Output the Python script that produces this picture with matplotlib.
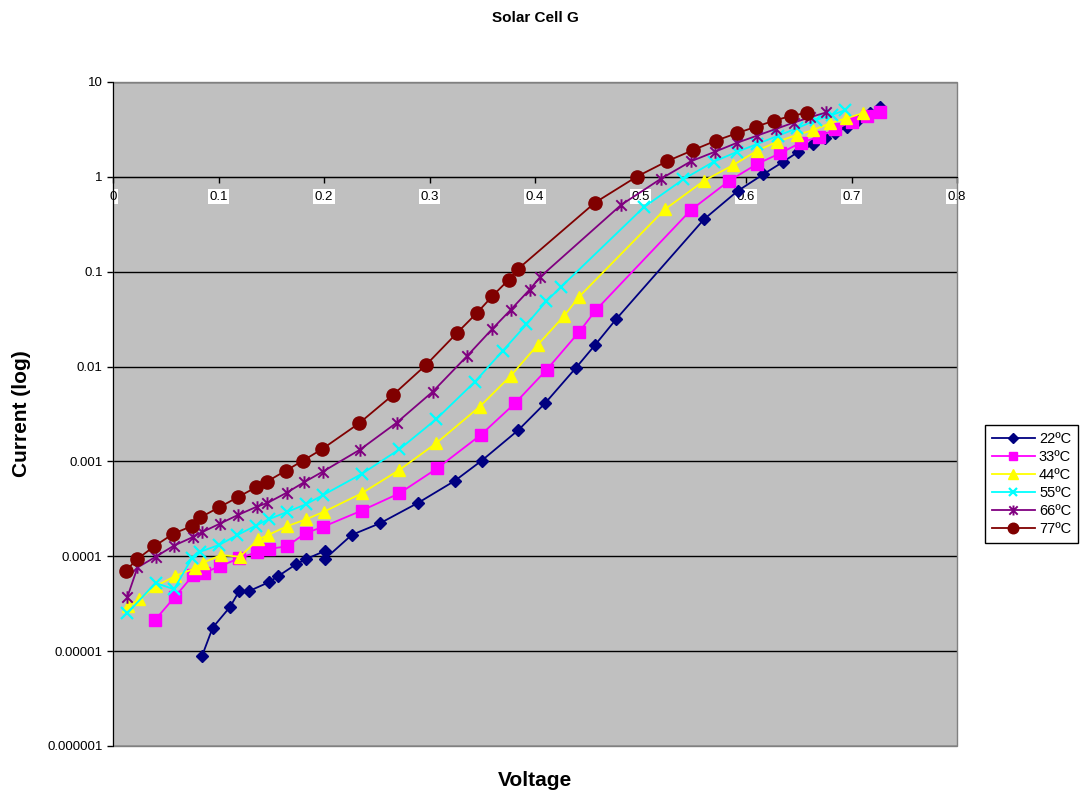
import matplotlib
matplotlib.use('Agg')
import matplotlib.pyplot as plt
from matplotlib.path import Path
from matplotlib.patches import Rectangle
from matplotlib.ticker import NullLocator

plt.rcParams['font.family'] = ['Liberation Sans', 'DejaVu Sans']

# ---------------- data ----------------
v22 = [0.0844, 0.0945, 0.1109, 0.1197, 0.1292, 0.1476, 0.1567, 0.1735, 0.1825, 0.2009, 0.2012,
       0.2263, 0.2531, 0.2894, 0.3242, 0.3495, 0.3842, 0.4095, 0.4389, 0.4569, 0.4768,
       0.5602, 0.5921, 0.6164, 0.6354, 0.6496, 0.6638, 0.6749, 0.6844, 0.6955, 0.7065, 0.7176, 0.7270]
i22 = [8.9e-6, 1.77e-5, 2.92e-5, 4.31e-5, 4.31e-5, 5.32e-5, 6.19e-5, 8.24e-5, 9.29e-5, 1.14e-4, 9.44e-5,
       1.68e-4, 2.23e-4, 3.67e-4, 6.27e-4, 1.02e-3, 2.14e-3, 4.1e-3, 9.73e-3, 0.01687, 0.0315,
       0.357, 0.71, 1.064, 1.445, 1.84, 2.20, 2.55, 2.88, 3.38, 3.97, 4.67, 5.41]

v33 = [0.0398, 0.0588, 0.0761, 0.0858, 0.1014, 0.1197, 0.1365, 0.1482, 0.1646, 0.1825, 0.1993,
       0.2357, 0.2714, 0.3074, 0.3488, 0.3810, 0.4111, 0.4420, 0.4578,
       0.5479, 0.5842, 0.6107, 0.6322, 0.6518, 0.6695, 0.6844, 0.7002, 0.7144, 0.7270]
i33 = [2.13e-5, 3.75e-5, 6.35e-5, 6.67e-5, 7.85e-5, 9.53e-5, 1.11e-4, 1.20e-4, 1.27e-4, 1.75e-4, 2.05e-4,
       3.03e-4, 4.61e-4, 8.47e-4, 1.91e-3, 4.10e-3, 9.27e-3, 0.0233, 0.0395,
       0.448, 0.911, 1.37, 1.77, 2.29, 2.65, 3.17, 3.81, 4.38, 4.79]

v44 = [0.0145, 0.0249, 0.0408, 0.0588, 0.0777, 0.0856, 0.1021, 0.1204, 0.1377, 0.1472, 0.1652, 0.1829, 0.2000,
       0.2357, 0.2714, 0.3062, 0.3476, 0.3773, 0.4024, 0.4275, 0.4419,
       0.5232, 0.5602, 0.5880, 0.6107, 0.6297, 0.6481, 0.6638, 0.6796, 0.6948, 0.7106]
i44 = [2.99e-5, 3.52e-5, 4.86e-5, 6.2e-5, 7.47e-5, 8.55e-5, 1.03e-4, 9.9e-5, 1.51e-4, 1.68e-4, 2.08e-4, 2.45e-4, 2.95e-4,
       4.61e-4, 8.13e-4, 1.55e-3, 3.78e-3, 8.05e-3, 0.01687, 0.0341, 0.0546,
       0.455, 0.911, 1.334, 1.89, 2.35, 2.76, 3.12, 3.67, 4.14, 4.68]

v55 = [0.01355, 0.0403, 0.0578, 0.0749, 0.0829, 0.1008, 0.1173, 0.1355, 0.1474, 0.1649, 0.1825, 0.1993,
       0.2357, 0.2714, 0.3062, 0.3431, 0.3695, 0.3919, 0.4109, 0.4249,
       0.5031, 0.5406, 0.5694, 0.5918, 0.6107, 0.6306, 0.6481, 0.6664, 0.6812, 0.6934]
i55 = [2.51e-5, 5.24e-5, 4.49e-5, 9.6e-5, 1.12e-4, 1.32e-4, 1.66e-4, 2.11e-4, 2.45e-4, 2.93e-4, 3.52e-4, 4.43e-4,
       7.38e-4, 1.34e-3, 2.78e-3, 6.93e-3, 0.01469, 0.0278, 0.0491, 0.0695,
       0.478, 0.943, 1.445, 1.84, 2.22, 2.72, 3.25, 3.98, 4.49, 5.01]

v66 = [0.01355, 0.0232, 0.0406, 0.0575, 0.0755, 0.0841, 0.1014, 0.1183, 0.1362, 0.1464, 0.1646, 0.1815, 0.1988,
       0.2341, 0.2689, 0.3030, 0.3357, 0.3590, 0.3771, 0.3948, 0.4052,
       0.4815, 0.5194, 0.5479, 0.5706, 0.5912, 0.6101, 0.6287, 0.6455, 0.6607, 0.6758]
i66 = [3.70e-5, 7.62e-5, 9.9e-5, 1.29e-4, 1.59e-4, 1.79e-4, 2.21e-4, 2.72e-4, 3.33e-4, 3.65e-4, 4.68e-4, 6.07e-4, 7.80e-4,
       1.33e-3, 2.56e-3, 5.43e-3, 0.01294, 0.0246, 0.0398, 0.0646, 0.0886,
       0.505, 0.956, 1.46, 1.84, 2.28, 2.71, 3.21, 3.74, 4.25, 4.77]

v77 = [0.0123, 0.0227, 0.0389, 0.0572, 0.0746, 0.0828, 0.1008, 0.1182, 0.1355, 0.1457, 0.1637, 0.1801, 0.1978,
       0.2332, 0.2657, 0.2967, 0.3258, 0.3453, 0.3597, 0.3751, 0.3842,
       0.4569, 0.4964, 0.5251, 0.5501, 0.5716, 0.5912, 0.6095, 0.6265, 0.6424, 0.6581]
i77 = [7.05e-5, 9.29e-5, 1.27e-4, 1.73e-4, 2.08e-4, 2.57e-4, 3.29e-4, 4.19e-4, 5.34e-4, 6.11e-4, 7.98e-4, 1.02e-3, 1.34e-3,
       2.52e-3, 5.06e-3, 0.0104, 0.02245, 0.0371, 0.0555, 0.0824, 0.1076,
       0.535, 1.004, 1.46, 1.92, 2.41, 2.88, 3.38, 3.91, 4.38, 4.75]

series_labels = ['22ºC', '33ºC', '44ºC', '55ºC', '66ºC', '77ºC']
x_ticks = [0, 0.1, 0.2, 0.3, 0.4, 0.5, 0.6, 0.7, 0.8]
x_tick_labels = ['0', '0.1', '0.2', '0.3', '0.4', '0.5', '0.6', '0.7', '0.8']
y_ticks = [1e-6, 1e-5, 1e-4, 1e-3, 1e-2, 1e-1, 1, 10]
y_tick_labels = ['0.000001', '0.00001', '0.0001', '0.001', '0.01', '0.1', '1', '10']

# ---------------- style ----------------
star = Path([(-1, -1), (1, 1), (-1, 1), (1, -1), (0, -1.2), (0, 1.2)],
            [Path.MOVETO, Path.LINETO, Path.MOVETO, Path.LINETO, Path.MOVETO, Path.LINETO])

styles = [
    dict(color='#000080', marker='D', ms=6.5, mew=1),
    dict(color='#FF00FF', marker='s', ms=8, mew=1),
    dict(color='#FFFF00', marker='^', ms=9, mew=1),
    dict(color='#00FFFF', marker='x', ms=8, mew=1.6),
    dict(color='#800080', marker=star, ms=9, mew=1.4),
    dict(color='#800000', marker='o', ms=9.5, mew=1),
]
data = [(v22, i22), (v33, i33), (v44, i44), (v55, i55), (v66, i66), (v77, i77)]

W, H = 1088, 798
fig = plt.figure(figsize=(W / 100, H / 100), dpi=100)
L, R, T, B = 113, 957, 82, 746
ax = fig.add_axes([L / W, 1 - B / H, (R - L) / W, (B - T) / H])
ax.set_facecolor('#C0C0C0')
ax.set_yscale('log')
ax.set_xlim(0, 0.8)
ax.set_ylim(1e-6, 10)

ax.yaxis.grid(True, which='major', color='black', lw=1)
ax.set_axisbelow(True)

handles = []
for (vx, iy), st, lab in zip(data, styles, series_labels):
    ln, = ax.plot(vx, iy, color=st['color'], lw=1.3, marker=st['marker'], ms=st['ms'],
                  mfc=st['color'], mec=st['color'], mew=st['mew'], label=lab, zorder=3)
    handles.append(ln)

for s in ['top', 'right']:
    ax.spines[s].set_visible(False)
ax.spines['bottom'].set_position(('data', 1))
ax.spines['bottom'].set_color('black')
ax.spines['left'].set_color('black')
ax.add_patch(Rectangle((0, 0), 1, 1, transform=ax.transAxes, fill=False,
                       edgecolor='#808080', lw=1, clip_on=False, zorder=1))

ax.set_yticks(y_ticks)
ax.set_yticklabels(y_tick_labels, fontsize=9.5)
ax.yaxis.set_minor_locator(NullLocator())
ax.set_xticks(x_ticks)
ax.set_xticklabels(x_tick_labels, fontsize=9.5)
ax.tick_params(axis='both', direction='out', length=4, width=1, color='black')
ax.tick_params(axis='x', pad=6)
for t in ax.get_xticklabels():
    t.set_bbox(dict(facecolor='white', edgecolor='none', pad=1))

fig.text((L + R) / 2 / W, 1 - 18 / H, 'Solar Cell G', ha='center', va='center',
         fontsize=11, fontweight='bold')
fig.text((L + R) / 2 / W, 1 - 780 / H, 'Voltage', ha='center', va='center',
         fontsize=15, fontweight='bold')
fig.text(22 / W, 1 - (T + B) / 2 / H, 'Current (log)', ha='center', va='center',
         rotation=90, fontsize=15, fontweight='bold')

leg = fig.legend(handles=handles, labels=series_labels, loc='upper left',
                 bbox_to_anchor=(985 / W, 1 - 425 / H), fontsize=10.5,
                 frameon=True, fancybox=False, edgecolor='black', facecolor='white',
                 framealpha=1, handlelength=2.9, handletextpad=0.3, labelspacing=0.27,
                 borderpad=0.5, borderaxespad=0, markerscale=0.8)
leg.get_frame().set_linewidth(1)

fig.savefig('out.png', dpi=100, facecolor='white')
